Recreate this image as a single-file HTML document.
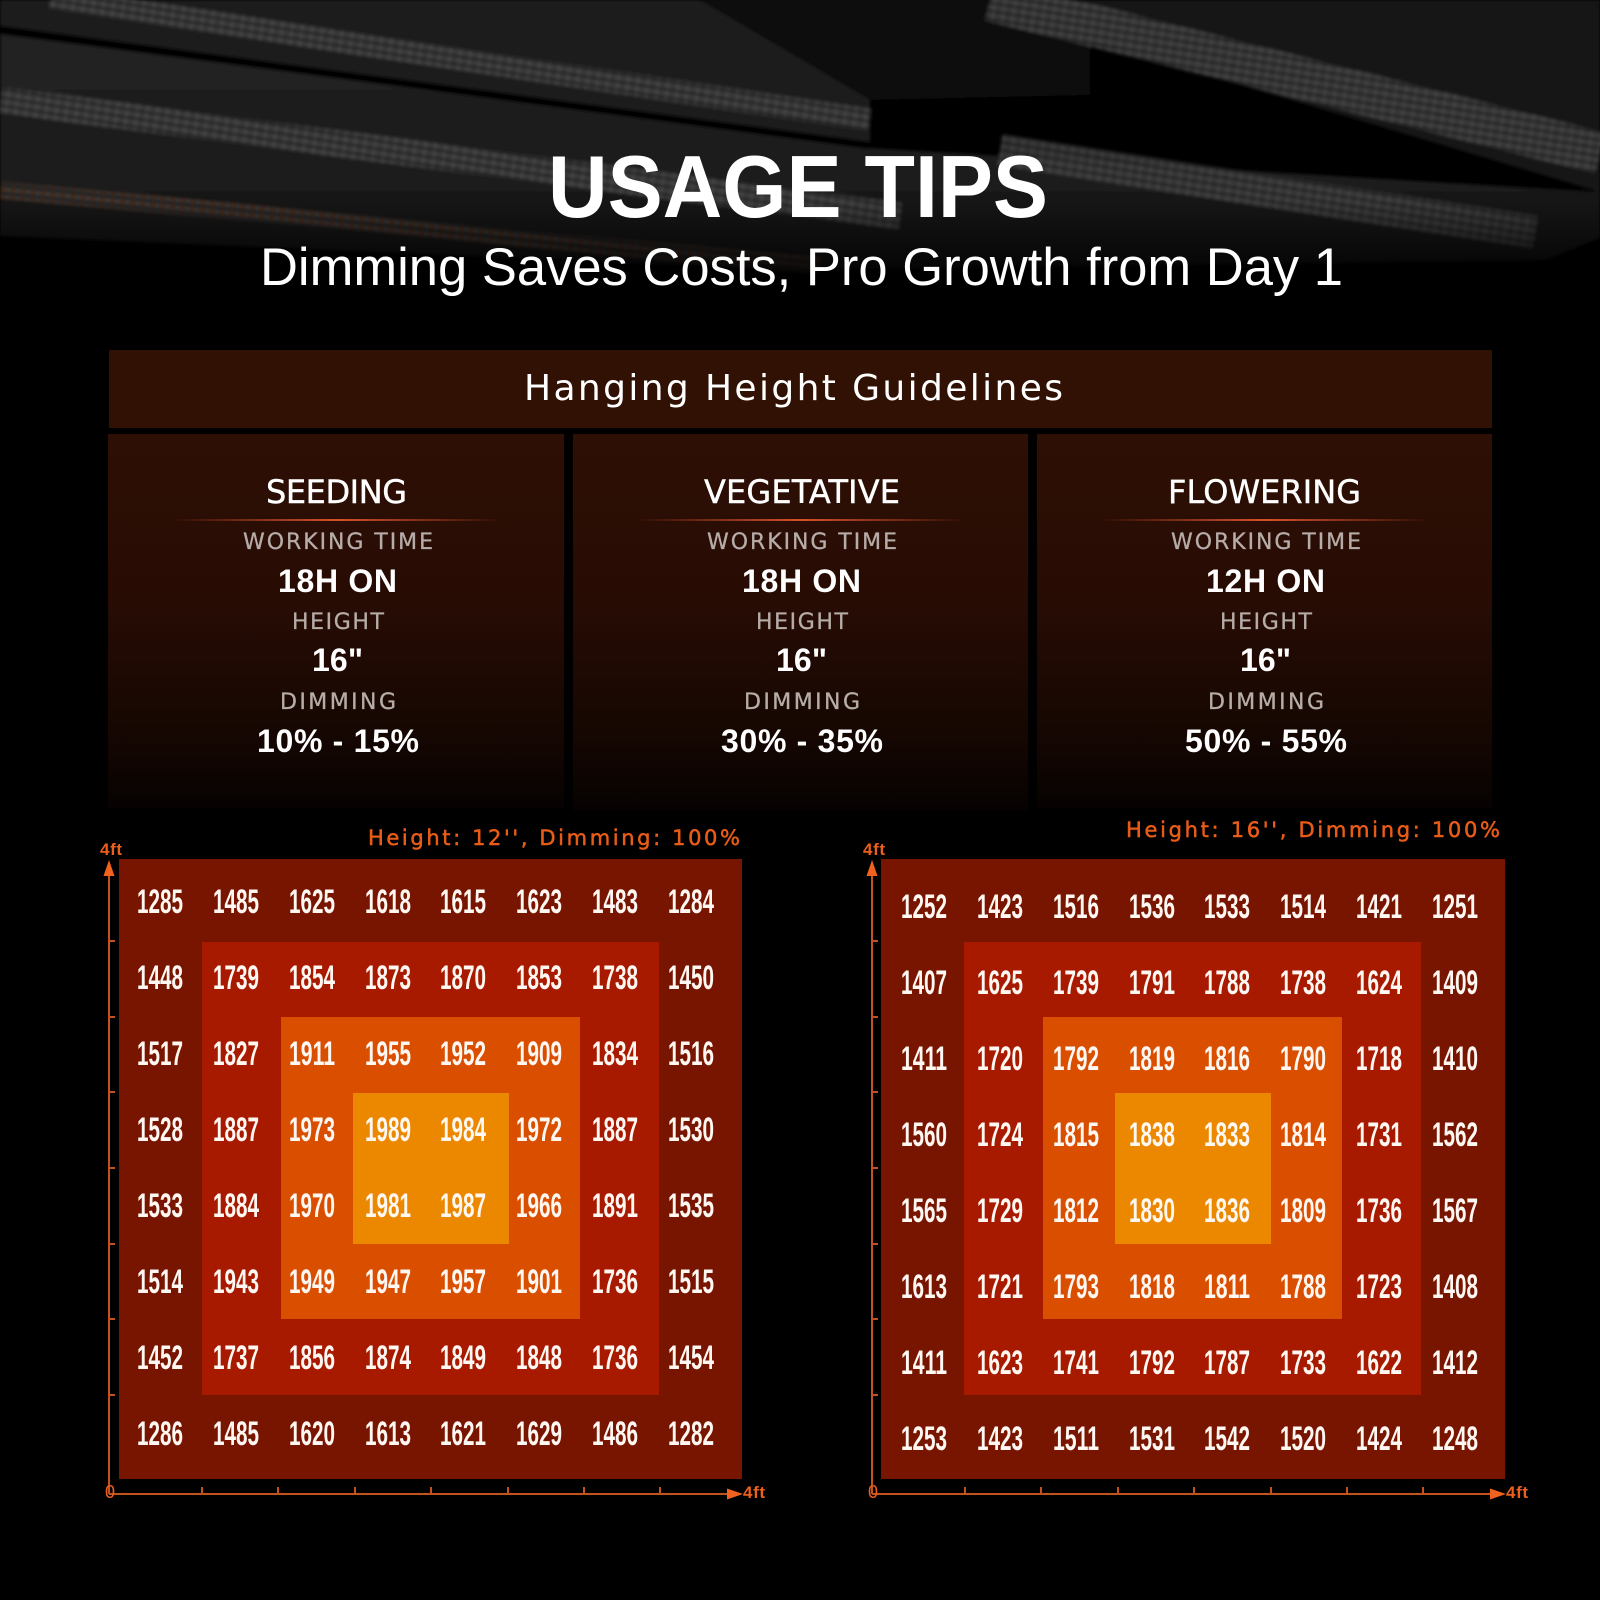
<!DOCTYPE html>
<html>
<head>
<meta charset="utf-8">
<style>
html,body{margin:0;padding:0;background:#000;}
svg{display:block;}
text{font-family:"Liberation Sans","DejaVu Sans",sans-serif;}
.n{font-size:34px;font-weight:bold;fill:#fff7f2;}
.lab{font-family:"DejaVu Sans","Liberation Sans",sans-serif;font-size:22px;fill:#b6aca8;stroke:#b6aca8;stroke-width:0.3;}
.val{font-size:32px;font-weight:bold;fill:#fff;}
.ttl{font-family:"DejaVu Sans","Liberation Sans",sans-serif;font-size:32px;fill:#fff;stroke:#fff;stroke-width:0.4;}
.ax{font-weight:bold;fill:#ec5f1c;}
.cl{font-family:"DejaVu Sans","Liberation Sans",sans-serif;font-size:21px;fill:#e85c18;stroke:#e85c18;stroke-width:0.5;}
.bn{font-family:"DejaVu Sans","Liberation Sans",sans-serif;font-size:36px;fill:#fff;}
</style>
</head>
<body>
<svg width="1600" height="1600" viewBox="0 0 1600 1600" xmlns="http://www.w3.org/2000/svg">
<defs>
  <pattern id="led" width="10" height="8" patternUnits="userSpaceOnUse" patternTransform="rotate(9)">
    <rect width="10" height="8" fill="#2a2a2a"/>
    <circle cx="3" cy="4" r="2.8" fill="#4e4e4e"/>
    <circle cx="8" cy="4" r="2.4" fill="#414141"/>
  </pattern>
  <pattern id="ledo" width="10" height="8" patternUnits="userSpaceOnUse" patternTransform="rotate(6)">
    <rect width="10" height="8" fill="#222"/>
    <circle cx="3" cy="4" r="2.4" fill="#5e3418"/>
    <circle cx="8" cy="4" r="2.2" fill="#4a4a4a"/>
  </pattern>
  <linearGradient id="bandB" x1="0" y1="0" x2="0" y2="1">
    <stop offset="0" stop-color="#232323"/>
    <stop offset="1" stop-color="#151515"/>
  </linearGradient>
  <linearGradient id="fade" gradientUnits="userSpaceOnUse" x1="0" y1="200" x2="0" y2="292">
    <stop offset="0" stop-color="#000" stop-opacity="0"/>
    <stop offset="1" stop-color="#000" stop-opacity="1"/>
  </linearGradient>
  <linearGradient id="card" x1="0" y1="0" x2="0" y2="1">
    <stop offset="0" stop-color="#2e0f05"/>
    <stop offset="0.45" stop-color="#270c04"/>
    <stop offset="0.8" stop-color="#160702"/>
    <stop offset="1" stop-color="#060201"/>
  </linearGradient>
  <linearGradient id="sep" x1="0" y1="0" x2="1" y2="0">
    <stop offset="0" stop-color="#d8502a" stop-opacity="0"/>
    <stop offset="0.5" stop-color="#d8502a" stop-opacity="1"/>
    <stop offset="1" stop-color="#d8502a" stop-opacity="0"/>
  </linearGradient>
  <filter id="soft" x="-5%" y="-5%" width="110%" height="110%">
    <feGaussianBlur stdDeviation="1.6"/>
  </filter>
</defs>

<rect width="1600" height="1600" fill="#000"/>

<!-- background light bars -->
<g filter="url(#soft)">
<polygon points="0,0 760,0 870,100 870,142 0,26" fill="#1b1b1b"/>
<polygon points="700,0 1090,0 1090,95 870,100" fill="#0c0c0c"/>
<polygon points="1000,0 1600,0 1600,192 1090,40" fill="#151515"/>
<polygon points="0,34 870,148 1600,192 1600,238 1545,260 800,270 0,236" fill="url(#bandB)"/>
<line x1="50" y1="-2" x2="870" y2="120" stroke="url(#led)" stroke-width="22" opacity="0.85"/>
<line x1="0" y1="30" x2="870" y2="146" stroke="#050505" stroke-width="6"/>
<line x1="990" y1="0" x2="1600" y2="153" stroke="url(#led)" stroke-width="42" opacity="0.85"/>
<line x1="0" y1="100" x2="900" y2="216" stroke="url(#led)" stroke-width="26" opacity="0.85"/>
<line x1="0" y1="190" x2="820" y2="266" stroke="url(#ledo)" stroke-width="16" opacity="0.8"/>
<line x1="1000" y1="150" x2="1535" y2="232" stroke="url(#led)" stroke-width="32" opacity="0.8"/>
</g>
<rect x="0" y="0" width="1600" height="300" fill="url(#fade)"/>

<!-- titles -->
<text x="548" y="217" font-size="88" font-weight="bold" fill="#fff" textLength="500" lengthAdjust="spacingAndGlyphs">USAGE TIPS</text>
<text x="260" y="285" font-size="53" fill="#fff" textLength="1083" lengthAdjust="spacingAndGlyphs">Dimming Saves Costs, Pro Growth from Day 1</text>

<!-- banner -->
<rect x="109" y="350" width="1383" height="78" fill="#321105"/>
<text class="bn" x="524" y="400" textLength="539" lengthAdjust="spacing">Hanging Height Guidelines</text>

<!-- cards -->
<rect x="108" y="434" width="456" height="374" fill="url(#card)"/>
<rect x="573" y="434" width="455" height="376" fill="url(#card)"/>
<rect x="1037" y="434" width="455" height="374" fill="url(#card)"/>

<rect x="172" y="519" width="331" height="2" fill="url(#sep)"/>
<rect x="636" y="519" width="331" height="2" fill="url(#sep)"/>
<rect x="1100" y="519" width="331" height="2" fill="url(#sep)"/>

<text class="ttl" x="266" y="503" textLength="141" lengthAdjust="spacing">SEEDING</text>
<text class="lab" x="243" y="549" textLength="190" lengthAdjust="spacing">WORKING TIME</text>
<text class="val" x="278" y="592" textLength="119" lengthAdjust="spacing">18H ON</text>
<text class="lab" x="292" y="629" textLength="92" lengthAdjust="spacing">HEIGHT</text>
<text class="val" x="312" y="671" textLength="51" lengthAdjust="spacing">16"</text>
<text class="lab" x="280" y="709" textLength="116" lengthAdjust="spacing">DIMMING</text>
<text class="val" x="257" y="752" textLength="162" lengthAdjust="spacing">10% - 15%</text>

<text class="ttl" x="704" y="503" textLength="196" lengthAdjust="spacing">VEGETATIVE</text>
<text class="lab" x="707" y="549" textLength="190" lengthAdjust="spacing">WORKING TIME</text>
<text class="val" x="742" y="592" textLength="119" lengthAdjust="spacing">18H ON</text>
<text class="lab" x="756" y="629" textLength="92" lengthAdjust="spacing">HEIGHT</text>
<text class="val" x="776" y="671" textLength="51" lengthAdjust="spacing">16"</text>
<text class="lab" x="744" y="709" textLength="116" lengthAdjust="spacing">DIMMING</text>
<text class="val" x="721" y="752" textLength="162" lengthAdjust="spacing">30% - 35%</text>

<text class="ttl" x="1168" y="503" textLength="193" lengthAdjust="spacing">FLOWERING</text>
<text class="lab" x="1171" y="549" textLength="190" lengthAdjust="spacing">WORKING TIME</text>
<text class="val" x="1206" y="592" textLength="119" lengthAdjust="spacing">12H ON</text>
<text class="lab" x="1220" y="629" textLength="92" lengthAdjust="spacing">HEIGHT</text>
<text class="val" x="1240" y="671" textLength="51" lengthAdjust="spacing">16"</text>
<text class="lab" x="1208" y="709" textLength="116" lengthAdjust="spacing">DIMMING</text>
<text class="val" x="1185" y="752" textLength="162" lengthAdjust="spacing">50% - 55%</text>

<!-- chart labels -->
<text class="cl" x="368" y="845" textLength="372" lengthAdjust="spacing">Height: 12'', Dimming: 100%</text>
<text class="cl" x="1126" y="837" textLength="374" lengthAdjust="spacing">Height: 16'', Dimming: 100%</text>

<!-- LEFT CHART -->
<rect x="119" y="859" width="623" height="620" fill="#781500"/>
<rect x="202" y="942" width="457" height="453" fill="#a81a00"/>
<rect x="281" y="1017" width="299" height="302" fill="#da4e00"/>
<rect x="353" y="1093" width="156" height="151" fill="#ec8800"/>

<line x1="109" y1="874" x2="109" y2="1494" stroke="#c4521e" stroke-width="2"/>
<polygon points="109,860 103.5,876 114.5,876" fill="#f0621e"/>
<path d="M109 941h6M109 1017h6M109 1092h6M109 1168h6M109 1244h6M109 1319h6M109 1395h6" stroke="#c4521e" stroke-width="2"/>
<line x1="109" y1="1494" x2="728" y2="1494" stroke="#c4521e" stroke-width="2"/>
<polygon points="743,1494 727,1488.5 727,1499.5" fill="#f0621e"/>
<path d="M202 1494v-7M278 1494v-7M355 1494v-7M431 1494v-7M508 1494v-7M584 1494v-7M660 1494v-7" stroke="#c4521e" stroke-width="2"/>
<text class="ax" x="100" y="855" font-size="17" textLength="22">4ft</text>
<text class="ax" x="743" y="1498" font-size="17" textLength="22">4ft</text>
<text x="105" y="1498" font-size="18" fill="#ec5f1c">0</text>

<g class="n" text-anchor="middle">
<text x="160" y="913" textLength="46" lengthAdjust="spacingAndGlyphs">1285</text>
<text x="236" y="913" textLength="46" lengthAdjust="spacingAndGlyphs">1485</text>
<text x="312" y="913" textLength="46" lengthAdjust="spacingAndGlyphs">1625</text>
<text x="388" y="913" textLength="46" lengthAdjust="spacingAndGlyphs">1618</text>
<text x="463" y="913" textLength="46" lengthAdjust="spacingAndGlyphs">1615</text>
<text x="539" y="913" textLength="46" lengthAdjust="spacingAndGlyphs">1623</text>
<text x="615" y="913" textLength="46" lengthAdjust="spacingAndGlyphs">1483</text>
<text x="691" y="913" textLength="46" lengthAdjust="spacingAndGlyphs">1284</text>

<text x="160" y="989" textLength="46" lengthAdjust="spacingAndGlyphs">1448</text>
<text x="236" y="989" textLength="46" lengthAdjust="spacingAndGlyphs">1739</text>
<text x="312" y="989" textLength="46" lengthAdjust="spacingAndGlyphs">1854</text>
<text x="388" y="989" textLength="46" lengthAdjust="spacingAndGlyphs">1873</text>
<text x="463" y="989" textLength="46" lengthAdjust="spacingAndGlyphs">1870</text>
<text x="539" y="989" textLength="46" lengthAdjust="spacingAndGlyphs">1853</text>
<text x="615" y="989" textLength="46" lengthAdjust="spacingAndGlyphs">1738</text>
<text x="691" y="989" textLength="46" lengthAdjust="spacingAndGlyphs">1450</text>

<text x="160" y="1065" textLength="46" lengthAdjust="spacingAndGlyphs">1517</text>
<text x="236" y="1065" textLength="46" lengthAdjust="spacingAndGlyphs">1827</text>
<text x="312" y="1065" textLength="46" lengthAdjust="spacingAndGlyphs">1911</text>
<text x="388" y="1065" textLength="46" lengthAdjust="spacingAndGlyphs">1955</text>
<text x="463" y="1065" textLength="46" lengthAdjust="spacingAndGlyphs">1952</text>
<text x="539" y="1065" textLength="46" lengthAdjust="spacingAndGlyphs">1909</text>
<text x="615" y="1065" textLength="46" lengthAdjust="spacingAndGlyphs">1834</text>
<text x="691" y="1065" textLength="46" lengthAdjust="spacingAndGlyphs">1516</text>

<text x="160" y="1141" textLength="46" lengthAdjust="spacingAndGlyphs">1528</text>
<text x="236" y="1141" textLength="46" lengthAdjust="spacingAndGlyphs">1887</text>
<text x="312" y="1141" textLength="46" lengthAdjust="spacingAndGlyphs">1973</text>
<text x="388" y="1141" textLength="46" lengthAdjust="spacingAndGlyphs">1989</text>
<text x="463" y="1141" textLength="46" lengthAdjust="spacingAndGlyphs">1984</text>
<text x="539" y="1141" textLength="46" lengthAdjust="spacingAndGlyphs">1972</text>
<text x="615" y="1141" textLength="46" lengthAdjust="spacingAndGlyphs">1887</text>
<text x="691" y="1141" textLength="46" lengthAdjust="spacingAndGlyphs">1530</text>

<text x="160" y="1217" textLength="46" lengthAdjust="spacingAndGlyphs">1533</text>
<text x="236" y="1217" textLength="46" lengthAdjust="spacingAndGlyphs">1884</text>
<text x="312" y="1217" textLength="46" lengthAdjust="spacingAndGlyphs">1970</text>
<text x="388" y="1217" textLength="46" lengthAdjust="spacingAndGlyphs">1981</text>
<text x="463" y="1217" textLength="46" lengthAdjust="spacingAndGlyphs">1987</text>
<text x="539" y="1217" textLength="46" lengthAdjust="spacingAndGlyphs">1966</text>
<text x="615" y="1217" textLength="46" lengthAdjust="spacingAndGlyphs">1891</text>
<text x="691" y="1217" textLength="46" lengthAdjust="spacingAndGlyphs">1535</text>

<text x="160" y="1293" textLength="46" lengthAdjust="spacingAndGlyphs">1514</text>
<text x="236" y="1293" textLength="46" lengthAdjust="spacingAndGlyphs">1943</text>
<text x="312" y="1293" textLength="46" lengthAdjust="spacingAndGlyphs">1949</text>
<text x="388" y="1293" textLength="46" lengthAdjust="spacingAndGlyphs">1947</text>
<text x="463" y="1293" textLength="46" lengthAdjust="spacingAndGlyphs">1957</text>
<text x="539" y="1293" textLength="46" lengthAdjust="spacingAndGlyphs">1901</text>
<text x="615" y="1293" textLength="46" lengthAdjust="spacingAndGlyphs">1736</text>
<text x="691" y="1293" textLength="46" lengthAdjust="spacingAndGlyphs">1515</text>

<text x="160" y="1369" textLength="46" lengthAdjust="spacingAndGlyphs">1452</text>
<text x="236" y="1369" textLength="46" lengthAdjust="spacingAndGlyphs">1737</text>
<text x="312" y="1369" textLength="46" lengthAdjust="spacingAndGlyphs">1856</text>
<text x="388" y="1369" textLength="46" lengthAdjust="spacingAndGlyphs">1874</text>
<text x="463" y="1369" textLength="46" lengthAdjust="spacingAndGlyphs">1849</text>
<text x="539" y="1369" textLength="46" lengthAdjust="spacingAndGlyphs">1848</text>
<text x="615" y="1369" textLength="46" lengthAdjust="spacingAndGlyphs">1736</text>
<text x="691" y="1369" textLength="46" lengthAdjust="spacingAndGlyphs">1454</text>

<text x="160" y="1445" textLength="46" lengthAdjust="spacingAndGlyphs">1286</text>
<text x="236" y="1445" textLength="46" lengthAdjust="spacingAndGlyphs">1485</text>
<text x="312" y="1445" textLength="46" lengthAdjust="spacingAndGlyphs">1620</text>
<text x="388" y="1445" textLength="46" lengthAdjust="spacingAndGlyphs">1613</text>
<text x="463" y="1445" textLength="46" lengthAdjust="spacingAndGlyphs">1621</text>
<text x="539" y="1445" textLength="46" lengthAdjust="spacingAndGlyphs">1629</text>
<text x="615" y="1445" textLength="46" lengthAdjust="spacingAndGlyphs">1486</text>
<text x="691" y="1445" textLength="46" lengthAdjust="spacingAndGlyphs">1282</text>
</g>

<!-- RIGHT CHART -->
<rect x="881" y="859" width="624" height="620" fill="#781500"/>
<rect x="964" y="942" width="457" height="453" fill="#a81a00"/>
<rect x="1043" y="1017" width="299" height="302" fill="#da4e00"/>
<rect x="1115" y="1093" width="156" height="151" fill="#ec8800"/>

<line x1="872" y1="874" x2="872" y2="1494" stroke="#c4521e" stroke-width="2"/>
<polygon points="872,860 866.5,876 877.5,876" fill="#f0621e"/>
<path d="M872 941h6M872 1017h6M872 1092h6M872 1168h6M872 1244h6M872 1319h6M872 1395h6" stroke="#c4521e" stroke-width="2"/>
<line x1="872" y1="1494" x2="1491" y2="1494" stroke="#c4521e" stroke-width="2"/>
<polygon points="1506,1494 1490,1488.5 1490,1499.5" fill="#f0621e"/>
<path d="M965 1494v-7M1041 1494v-7M1118 1494v-7M1194 1494v-7M1271 1494v-7M1347 1494v-7M1423 1494v-7" stroke="#c4521e" stroke-width="2"/>
<text class="ax" x="863" y="855" font-size="17" textLength="22">4ft</text>
<text class="ax" x="1506" y="1498" font-size="17" textLength="22">4ft</text>
<text x="868" y="1498" font-size="18" fill="#ec5f1c">0</text>

<g class="n" text-anchor="middle">
<text x="924" y="918" textLength="46" lengthAdjust="spacingAndGlyphs">1252</text>
<text x="1000" y="918" textLength="46" lengthAdjust="spacingAndGlyphs">1423</text>
<text x="1076" y="918" textLength="46" lengthAdjust="spacingAndGlyphs">1516</text>
<text x="1152" y="918" textLength="46" lengthAdjust="spacingAndGlyphs">1536</text>
<text x="1227" y="918" textLength="46" lengthAdjust="spacingAndGlyphs">1533</text>
<text x="1303" y="918" textLength="46" lengthAdjust="spacingAndGlyphs">1514</text>
<text x="1379" y="918" textLength="46" lengthAdjust="spacingAndGlyphs">1421</text>
<text x="1455" y="918" textLength="46" lengthAdjust="spacingAndGlyphs">1251</text>

<text x="924" y="994" textLength="46" lengthAdjust="spacingAndGlyphs">1407</text>
<text x="1000" y="994" textLength="46" lengthAdjust="spacingAndGlyphs">1625</text>
<text x="1076" y="994" textLength="46" lengthAdjust="spacingAndGlyphs">1739</text>
<text x="1152" y="994" textLength="46" lengthAdjust="spacingAndGlyphs">1791</text>
<text x="1227" y="994" textLength="46" lengthAdjust="spacingAndGlyphs">1788</text>
<text x="1303" y="994" textLength="46" lengthAdjust="spacingAndGlyphs">1738</text>
<text x="1379" y="994" textLength="46" lengthAdjust="spacingAndGlyphs">1624</text>
<text x="1455" y="994" textLength="46" lengthAdjust="spacingAndGlyphs">1409</text>

<text x="924" y="1070" textLength="46" lengthAdjust="spacingAndGlyphs">1411</text>
<text x="1000" y="1070" textLength="46" lengthAdjust="spacingAndGlyphs">1720</text>
<text x="1076" y="1070" textLength="46" lengthAdjust="spacingAndGlyphs">1792</text>
<text x="1152" y="1070" textLength="46" lengthAdjust="spacingAndGlyphs">1819</text>
<text x="1227" y="1070" textLength="46" lengthAdjust="spacingAndGlyphs">1816</text>
<text x="1303" y="1070" textLength="46" lengthAdjust="spacingAndGlyphs">1790</text>
<text x="1379" y="1070" textLength="46" lengthAdjust="spacingAndGlyphs">1718</text>
<text x="1455" y="1070" textLength="46" lengthAdjust="spacingAndGlyphs">1410</text>

<text x="924" y="1146" textLength="46" lengthAdjust="spacingAndGlyphs">1560</text>
<text x="1000" y="1146" textLength="46" lengthAdjust="spacingAndGlyphs">1724</text>
<text x="1076" y="1146" textLength="46" lengthAdjust="spacingAndGlyphs">1815</text>
<text x="1152" y="1146" textLength="46" lengthAdjust="spacingAndGlyphs">1838</text>
<text x="1227" y="1146" textLength="46" lengthAdjust="spacingAndGlyphs">1833</text>
<text x="1303" y="1146" textLength="46" lengthAdjust="spacingAndGlyphs">1814</text>
<text x="1379" y="1146" textLength="46" lengthAdjust="spacingAndGlyphs">1731</text>
<text x="1455" y="1146" textLength="46" lengthAdjust="spacingAndGlyphs">1562</text>

<text x="924" y="1222" textLength="46" lengthAdjust="spacingAndGlyphs">1565</text>
<text x="1000" y="1222" textLength="46" lengthAdjust="spacingAndGlyphs">1729</text>
<text x="1076" y="1222" textLength="46" lengthAdjust="spacingAndGlyphs">1812</text>
<text x="1152" y="1222" textLength="46" lengthAdjust="spacingAndGlyphs">1830</text>
<text x="1227" y="1222" textLength="46" lengthAdjust="spacingAndGlyphs">1836</text>
<text x="1303" y="1222" textLength="46" lengthAdjust="spacingAndGlyphs">1809</text>
<text x="1379" y="1222" textLength="46" lengthAdjust="spacingAndGlyphs">1736</text>
<text x="1455" y="1222" textLength="46" lengthAdjust="spacingAndGlyphs">1567</text>

<text x="924" y="1298" textLength="46" lengthAdjust="spacingAndGlyphs">1613</text>
<text x="1000" y="1298" textLength="46" lengthAdjust="spacingAndGlyphs">1721</text>
<text x="1076" y="1298" textLength="46" lengthAdjust="spacingAndGlyphs">1793</text>
<text x="1152" y="1298" textLength="46" lengthAdjust="spacingAndGlyphs">1818</text>
<text x="1227" y="1298" textLength="46" lengthAdjust="spacingAndGlyphs">1811</text>
<text x="1303" y="1298" textLength="46" lengthAdjust="spacingAndGlyphs">1788</text>
<text x="1379" y="1298" textLength="46" lengthAdjust="spacingAndGlyphs">1723</text>
<text x="1455" y="1298" textLength="46" lengthAdjust="spacingAndGlyphs">1408</text>

<text x="924" y="1374" textLength="46" lengthAdjust="spacingAndGlyphs">1411</text>
<text x="1000" y="1374" textLength="46" lengthAdjust="spacingAndGlyphs">1623</text>
<text x="1076" y="1374" textLength="46" lengthAdjust="spacingAndGlyphs">1741</text>
<text x="1152" y="1374" textLength="46" lengthAdjust="spacingAndGlyphs">1792</text>
<text x="1227" y="1374" textLength="46" lengthAdjust="spacingAndGlyphs">1787</text>
<text x="1303" y="1374" textLength="46" lengthAdjust="spacingAndGlyphs">1733</text>
<text x="1379" y="1374" textLength="46" lengthAdjust="spacingAndGlyphs">1622</text>
<text x="1455" y="1374" textLength="46" lengthAdjust="spacingAndGlyphs">1412</text>

<text x="924" y="1450" textLength="46" lengthAdjust="spacingAndGlyphs">1253</text>
<text x="1000" y="1450" textLength="46" lengthAdjust="spacingAndGlyphs">1423</text>
<text x="1076" y="1450" textLength="46" lengthAdjust="spacingAndGlyphs">1511</text>
<text x="1152" y="1450" textLength="46" lengthAdjust="spacingAndGlyphs">1531</text>
<text x="1227" y="1450" textLength="46" lengthAdjust="spacingAndGlyphs">1542</text>
<text x="1303" y="1450" textLength="46" lengthAdjust="spacingAndGlyphs">1520</text>
<text x="1379" y="1450" textLength="46" lengthAdjust="spacingAndGlyphs">1424</text>
<text x="1455" y="1450" textLength="46" lengthAdjust="spacingAndGlyphs">1248</text>
</g>
</svg>
</body>
</html>
